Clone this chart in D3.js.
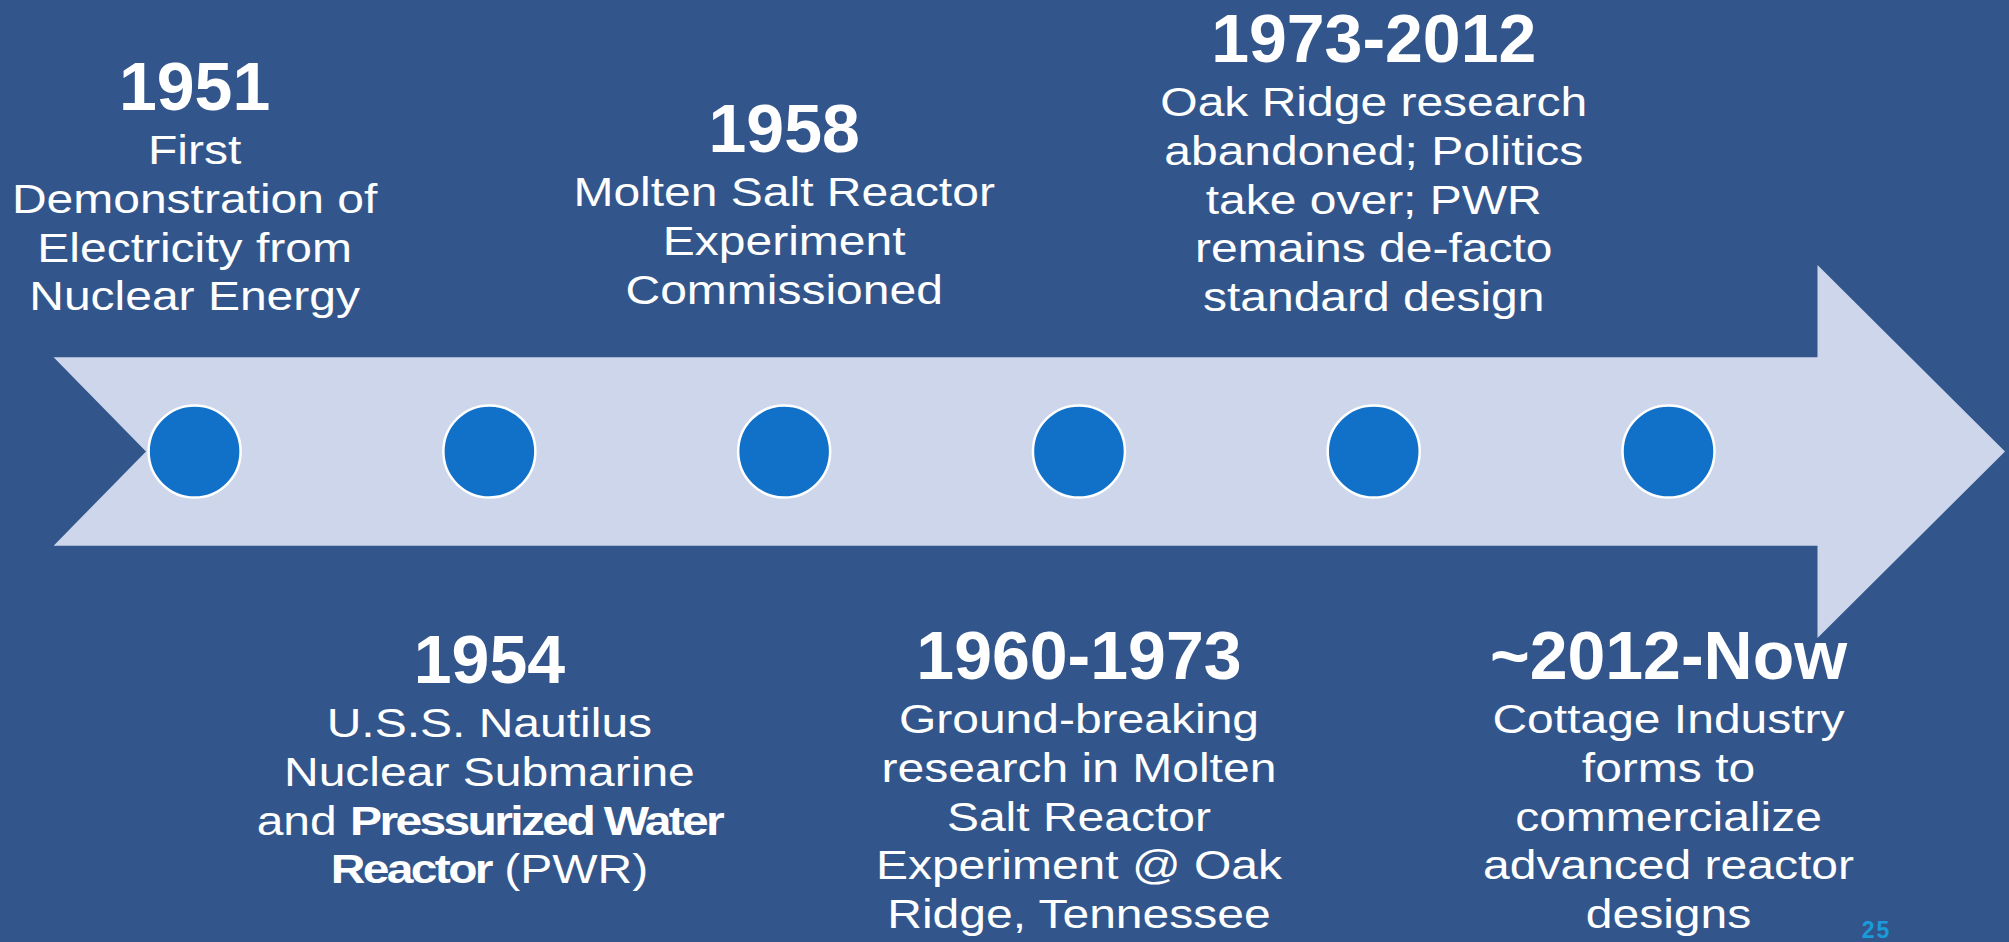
<!DOCTYPE html>
<html>
<head>
  <meta charset="utf-8">
  <title>Molten Salt Reactor timeline</title>
  <script src="https://cdn.jsdelivr.net/npm/d3@7"></script>
  <style>
    html, body { margin: 0; padding: 0; background: #32568c; overflow: hidden; }
    svg { display: block; }
  </style>
</head>
<body>
  <div id="chart"></div>

  <script>
    // timeline events, left to right (even = above arrow, odd = below)
    const years = ["1951", "1954", "1958", "1960-1973", "1973-2012", "~2012-Now"]

    // description lines, *text* = bold
    const descriptions = [
      ["First", "Demonstration of", "Electricity from", "Nuclear Energy"],
      ["U.S.S. Nautilus", "Nuclear Submarine", "and *Pressurized Water*", "*Reactor* (PWR)"],
      ["Molten Salt Reactor", "Experiment", "Commissioned"],
      ["Ground-breaking", "research in Molten", "Salt Reactor", "Experiment @ Oak", "Ridge, Tennessee"],
      ["Oak Ridge research", "abandoned; Politics", "take over; PWR", "remains de-facto", "standard design"],
      ["Cottage Industry", "forms to", "commercialize", "advanced reactor", "designs"]
    ]

    const pageNumber = "25"

    // layout
    const width = 2009
    const height = 942
    const titleY = [110, 683, 152, 679, 62, 679]
    const lineHeight = 48.8
    const titleGap = 54
    const stretch = 1.2

    const colors = {
      bg: "#32568c",
      arrow: "#cdd6ea",
      dot: "#1170c8",
      text: "#ffffff",
      page: "#1a9ad9"
    }

    const svg = d3.select("#chart")
      .append("svg")
      .attr("width", width)
      .attr("height", height)

    svg.append("rect")
      .attr("width", width)
      .attr("height", height)
      .attr("fill", colors.bg)

    const x = d3.scalePoint()
      .domain(years)
      .range([194.6, 1668.5])

    const y = d3.scaleLinear()
      .domain([-1, 1])
      .range([265, 638])

    // arrow shape
    const bodyHalf = 0.505
    const arrowPts = [
      [53.6, y(-bodyHalf)],
      [1817.5, y(-bodyHalf)],
      [1817.5, y(-1)],
      [2005, y(0)],
      [1817.5, y(1)],
      [1817.5, y(bodyHalf)],
      [53.6, y(bodyHalf)],
      [146, y(0)]
    ]

    svg.append("path")
      .attr("d", d3.line()(arrowPts) + "Z")
      .attr("fill", colors.arrow)

    svg.append("g")
      .selectAll("circle")
      .data(years)
      .enter()
      .append("circle")
      .attr("cx", d => x(d))
      .attr("cy", y(0))
      .attr("r", 46)
      .attr("fill", colors.dot)
      .attr("stroke", "#ffffff")
      .attr("stroke-width", 2.5)

    const groups = svg.append("g")
      .selectAll("g")
      .data(years)
      .enter()
      .append("g")
      .attr("transform", (d, i) => `translate(${x(d)},${titleY[i]})`)

    groups.append("text")
      .attr("text-anchor", "middle")
      .attr("font-family", "'Liberation Sans', Arial, sans-serif")
      .attr("font-weight", "bold")
      .attr("font-size", 68)
      .attr("fill", colors.text)
      .text(d => d)

    groups.each(function(d, i) {
      const g = d3.select(this)
      descriptions[i].forEach((line, j) => {
        const t = g.append("text")
          .attr("text-anchor", "middle")
          .attr("transform", `translate(0,${titleGap + j * lineHeight}) scale(${stretch},1)`)
          .attr("font-family", "'Liberation Sans', Arial, sans-serif")
          .attr("font-size", 40)
          .attr("fill", colors.text)
        line.split("*").forEach((part, k) => {
          if (part === "") return
          const bold = k % 2 === 1
          t.append("tspan")
            .attr("font-weight", bold ? "bold" : "normal")
            .attr("letter-spacing", bold ? -2.2 : 0)
            .text(part)
        })
      })
    })

    svg.append("text")
      .attr("x", 1876.5)
      .attr("y", 938.3)
      .attr("text-anchor", "middle")
      .attr("font-family", "'Liberation Sans', Arial, sans-serif")
      .attr("font-weight", "bold")
      .attr("font-size", 23)
      .attr("letter-spacing", 2)
      .attr("fill", colors.page)
      .text(pageNumber)
  </script>
</body>
</html>
